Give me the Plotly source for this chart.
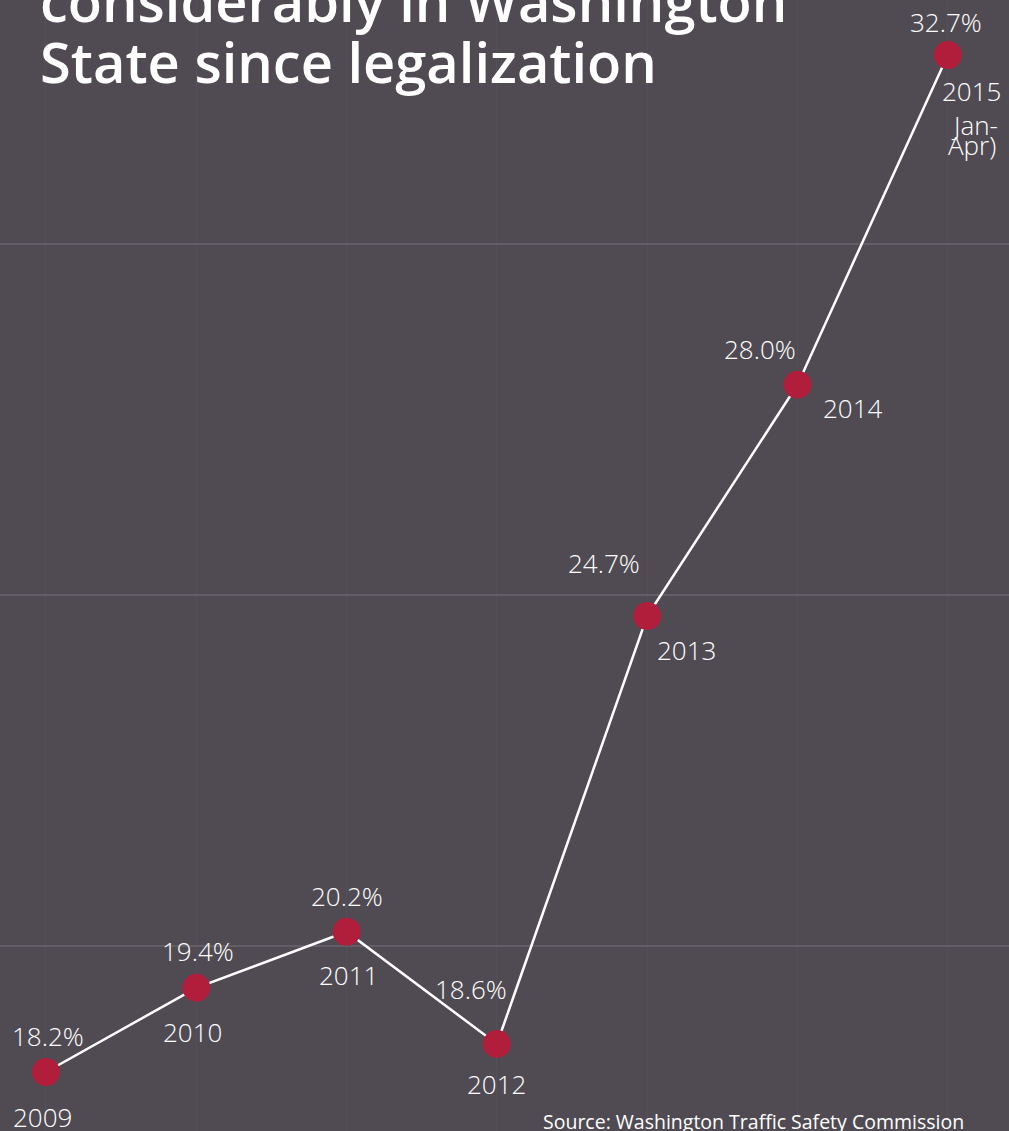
import plotly.graph_objects as go

# ---- data ----
years = ["2009", "2010", "2011", "2012", "2013", "2014", "2015"]
values = [18.2, 19.4, 20.2, 18.6, 24.7, 28.0, 32.7]
pct_labels = ["18.2%", "19.4%", "20.2%", "18.6%", "24.7%", "28.0%", "32.7%"]
year_labels = ["2009", "2010", "2011", "2012", "2013", "2014", "2015"]
extra_label_lines = ["Jan-", "Apr)"]
title_lines = ["considerably in Washington", "State since legalization"]
source_text = "Source: Washington Traffic Safety Commission"
grid_values = [20, 25, 30]

# ---- style ----
BG = "#504b52"
RED = "#b01e3c"
WHITE = "#ffffff"
FONT = "Open Sans"
W, H = 1009, 1131

# label offsets (pixels, x right, y up) relative to each marker
pct_offsets = [(2, 36), (2, 37), (0, 36), (-26, 55), (-43, 53), (-38, 36), (-2, 33)]
year_offsets = [(-3, -45), (-4, -44), (2, -43), (0, -40), (39, -34), (55, -23), (24, -36)]
extra_offsets = [(27, -70), (24, -90)]

xs = list(range(len(years)))

fig = go.Figure()
fig.add_trace(go.Scatter(
    x=xs, y=values, mode="lines+markers",
    line=dict(color=WHITE, width=2.5),
    marker=dict(color=RED, size=28, line=dict(width=0)),
    hoverinfo="skip",
))

lab_font = dict(family=FONT, size=26, color=WHITE, weight=300)
ann = []
for i, (lab, off) in enumerate(zip(pct_labels, pct_offsets)):
    ann.append(dict(x=xs[i], y=values[i], xref="x", yref="y", text=lab,
                    showarrow=False, xshift=off[0], yshift=off[1], font=lab_font))
for i, (lab, off) in enumerate(zip(year_labels, year_offsets)):
    ann.append(dict(x=xs[i], y=values[i], xref="x", yref="y", text=lab,
                    showarrow=False, xshift=off[0], yshift=off[1], font=lab_font))
for lab, off in zip(extra_label_lines, extra_offsets):
    ann.append(dict(x=xs[-1], y=values[-1], xref="x", yref="y", text=lab,
                    showarrow=False, xshift=off[0], yshift=off[1], font=lab_font))

# title lines (top partially cut off)
for line, py in zip(title_lines, [0, 61]):
    ann.append(dict(x=38 / W, y=1 - py / H, xref="paper", yref="paper",
                    xanchor="left", yanchor="middle", text=line, showarrow=False,
                    font=dict(family=FONT, size=56, color=WHITE, weight=600)))

ann.append(dict(x=966 / W, y=1 - 1121 / H, xref="paper", yref="paper",
                xanchor="right", yanchor="middle", text=source_text, showarrow=False,
                font=dict(family=FONT, size=19.5, color=WHITE, weight=500)))

fig.update_layout(
    width=W, height=H,
    margin=dict(l=0, r=0, t=0, b=0),
    paper_bgcolor=BG, plot_bgcolor=BG,
    showlegend=False,
    annotations=ann,
    xaxis=dict(range=[-0.306, 6.407], tickvals=xs, showticklabels=False,
               showgrid=True, gridcolor="#545057", gridwidth=1, zeroline=False,
               showline=False, fixedrange=True),
    yaxis=dict(range=[17.359, 33.484], tickvals=grid_values, showticklabels=False,
               showgrid=True, gridcolor="#625d66", gridwidth=1.5, zeroline=False,
               showline=False, fixedrange=True),
)

fig.write_html("out.html", config={"displayModeBar": False},
               post_script="document.body.style.margin='0';document.body.style.overflow='hidden';")
